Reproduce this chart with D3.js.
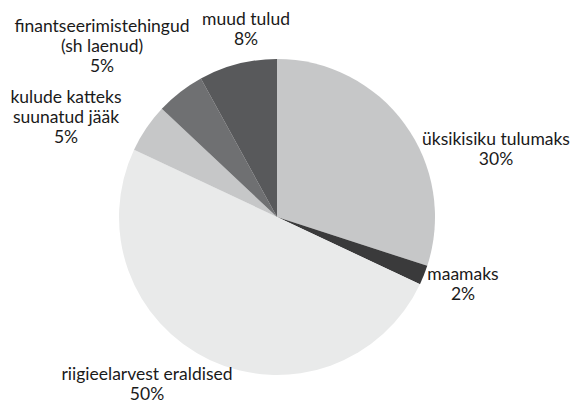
<!DOCTYPE html>
<html>
<head>
<meta charset="utf-8">
<script src="https://cdn.jsdelivr.net/npm/d3@7"></script>
<style>
  body { margin: 0; background: #fff; }
  text { font-family: Lato, "Open Sans", sans-serif; font-size: 17.5px; fill: #1a1a1a; }
</style>
</head>
<body>
<div id="chart-area"></div>
<script>
// data
let categories = ["üksikisiku tulumaks", "maamaks", "riigieelarvest eraldised",
	"kulude katteks suunatud jääk", "finantseerimistehingud (sh laenud)", "muud tulud"];
let shares = [30, 2, 50, 5, 5, 8];
let labelLines = [
	["üksikisiku tulumaks"],
	["maamaks"],
	["riigieelarvest eraldised"],
	["kulude katteks", "suunatud jääk"],
	["finantseerimistehingud", "(sh laenud)"],
	["muud tulud"]
];

let width = 581, height = 403;
let cx = 277, cy = 217, radius = 158;

let colors = ["#c6c7c8", "#3a3a3b", "#e9eaea", "#c6c7c8", "#6f7072", "#58595b"];
// label anchor (centre of last line) in svg coords
let labelAnchors = [[496, 165], [463, 300], [147, 400], [66, 143], [102, 72], [246, 45]];
let lineHeight = 20;

let data = categories.map((c, i) => ({name: c, value: shares[i], lines: labelLines[i]}));

let svg = d3.select("#chart-area").append("svg")
	.attr("width", width)
	.attr("height", height);

let pie = d3.pie()
	.sort(null)
	.value(d => d.value);

let arc = d3.arc()
	.innerRadius(0)
	.outerRadius(radius);

let g = svg.append("g")
	.attr("transform", "translate(" + cx + "," + cy + ")");

g.selectAll("path")
	.data(pie(data))
	.enter()
	.append("path")
	.attr("d", arc)
	.attr("fill", (d, i) => colors[i]);

let labels = svg.selectAll("text.label")
	.data(data)
	.enter()
	.append("text")
	.attr("class", "label")
	.attr("text-anchor", "middle");

labels.each(function(d, i) {
	let t = d3.select(this);
	let rows = d.lines.concat([d.value + "%"]);
	let [ax, ay] = labelAnchors[i];
	rows.forEach((r, j) => {
		t.append("tspan")
			.attr("x", ax)
			.attr("y", ay - (rows.length - 1 - j) * lineHeight)
			.text(r);
	});
});
</script>
</body>
</html>
